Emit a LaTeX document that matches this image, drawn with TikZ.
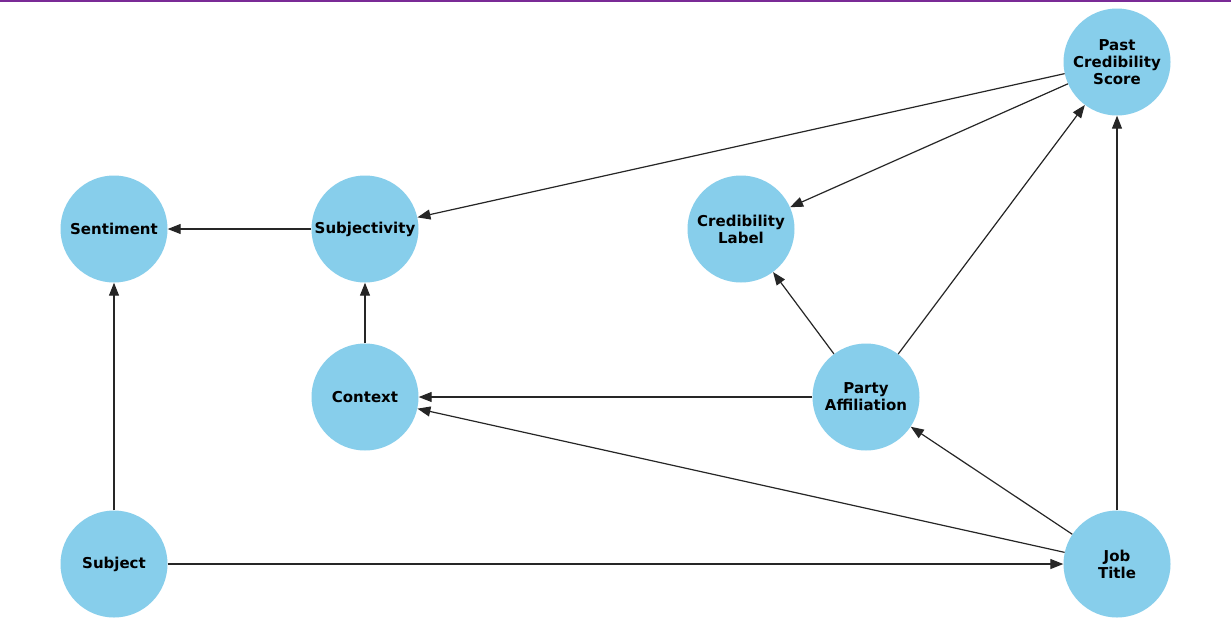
\documentclass[tikz,border=0pt]{standalone}
\usepackage{fontspec}
\setmainfont{DejaVu Sans}
\usetikzlibrary{arrows.meta}
\definecolor{nodeblue}{HTML}{87CEEB}
\definecolor{topline}{HTML}{7A2A96}
\begin{document}
\begin{tikzpicture}[x=1pt,y=-1pt,
  vtx/.style={circle,fill=nodeblue,minimum size=107pt,inner sep=0pt,align=center,
    font=\fontsize{15}{17}\selectfont\bfseries},
  edge/.style={line width=1.2pt,draw=black!85,-{Triangle[length=13pt,width=10pt]}}]
\useasboundingbox (0,0) rectangle (1231,625);
\fill[white] (0,0) rectangle (1231,625);
\draw[topline,line width=2pt] (0,0.5) -- (1231,0.5);
\node[vtx] (past) at (1117,62) {Past\\Credibility\\Score};
\node[vtx] (sent) at (114,229) {Sentiment};
\node[vtx] (subj) at (365,229) {Subjectivity};
\node[vtx] (cred) at (741,229) {Credibility\\Label};
\node[vtx] (ctx) at (365,397) {Context};
\node[vtx] (party) at (866,397) {Party\\Affiliation};
\node[vtx] (subject) at (114,564) {Subject};
\node[vtx] (job) at (1117,564) {Job\\Title};
\draw[edge] (past) -- (subj);
\draw[edge] (past) -- (cred);
\draw[edge] (party) -- (past);
\draw[edge] (job) -- (past);
\draw[edge] (subj) -- (sent);
\draw[edge] (ctx) -- (subj);
\draw[edge] (party) -- (cred);
\draw[edge] (party) -- (ctx);
\draw[edge] (job) -- (ctx);
\draw[edge] (job) -- (party);
\draw[edge] (subject) -- (sent);
\draw[edge] (subject) -- (job);
\end{tikzpicture}
\end{document}
